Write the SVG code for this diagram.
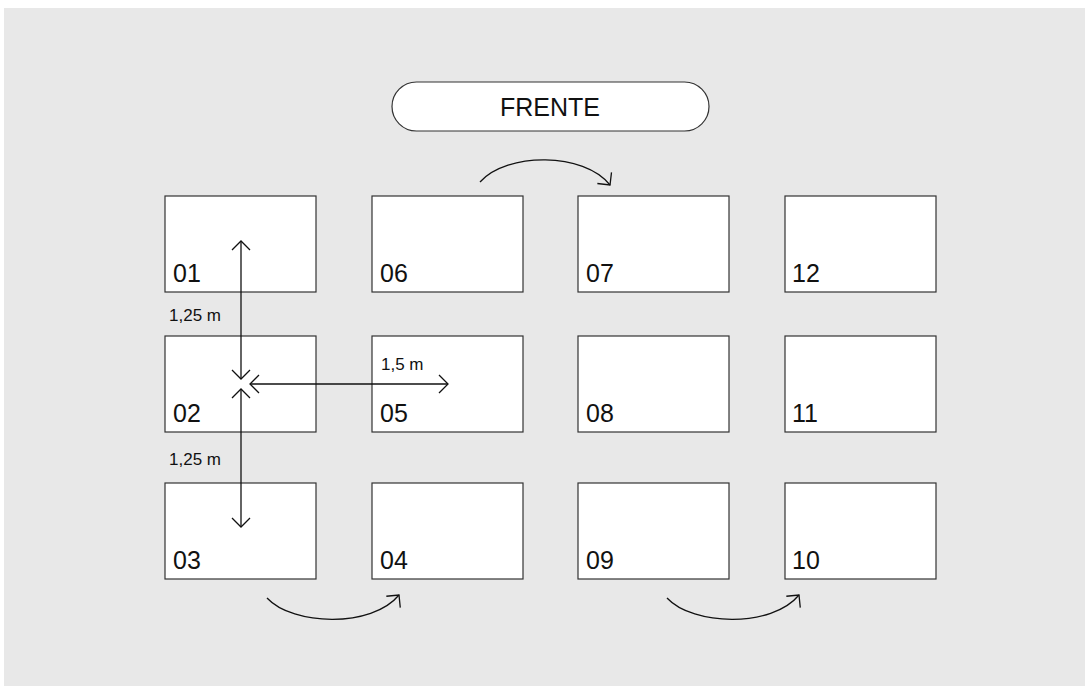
<svg xmlns="http://www.w3.org/2000/svg" width="1085" height="686" viewBox="0 0 1085 686">
<style>
.bg{fill:#e8e8e8}
.box{fill:#fff;stroke:#333;stroke-width:1.2}
.num{font-family:"Liberation Sans",Arial,sans-serif;font-size:25px;fill:#111}
.dim{font-family:"Liberation Sans",Arial,sans-serif;font-size:17px;fill:#111}
.title{font-family:"Liberation Sans",Arial,sans-serif;font-size:25px;fill:#111;text-anchor:middle}
.ln{fill:none;stroke:#111;stroke-width:1.3}
</style>
<defs>
<marker id="chev" markerUnits="userSpaceOnUse" markerWidth="24" markerHeight="24" refX="0" refY="0" orient="auto-start-reverse" overflow="visible">
<path d="M -9 -9 L 0 0 L -9 9" fill="none" stroke="#111" stroke-width="1.3"/>
</marker>
</defs>
<rect class="bg" x="4" y="8" width="1081" height="678"/>
<g id="frente">
<rect class="box" x="392" y="82" width="317" height="49" rx="24.5"/>
<text class="title" x="550" y="116">FRENTE</text>
</g>
<g id="n01"><rect class="box" x="165" y="196" width="151" height="96"/><text class="num" x="173" y="282">01</text></g>
<g id="n06"><rect class="box" x="372" y="196" width="151" height="96"/><text class="num" x="380" y="282">06</text></g>
<g id="n07"><rect class="box" x="578" y="196" width="151" height="96"/><text class="num" x="586" y="282">07</text></g>
<g id="n12"><rect class="box" x="785" y="196" width="151" height="96"/><text class="num" x="792" y="282">12</text></g>
<g id="n02"><rect class="box" x="165" y="336" width="151" height="96"/><text class="num" x="173" y="422">02</text></g>
<g id="n05"><rect class="box" x="372" y="336" width="151" height="96"/><text class="num" x="380" y="422">05</text></g>
<g id="n08"><rect class="box" x="578" y="336" width="151" height="96"/><text class="num" x="586" y="422">08</text></g>
<g id="n11"><rect class="box" x="785" y="336" width="151" height="96"/><text class="num" x="792" y="422">11</text></g>
<g id="n03"><rect class="box" x="165" y="483" width="151" height="96"/><text class="num" x="173" y="569">03</text></g>
<g id="n04"><rect class="box" x="372" y="483" width="151" height="96"/><text class="num" x="380" y="569">04</text></g>
<g id="n09"><rect class="box" x="578" y="483" width="151" height="96"/><text class="num" x="586" y="569">09</text></g>
<g id="n10"><rect class="box" x="785" y="483" width="151" height="96"/><text class="num" x="792" y="569">10</text></g>
<g id="connectors">
<path class="ln" d="M 480 182 C 507 152 584 152 610 185" marker-end="url(#chev)"/>
<path class="ln" d="M 267 598 C 293 626 372 628 399 595" marker-end="url(#chev)"/>
<path class="ln" d="M 667 598 C 693 626 772 628 799 595" marker-end="url(#chev)"/>
<path class="ln" d="M 241 241 L 241 379" marker-start="url(#chev)" marker-end="url(#chev)"/>
<path class="ln" d="M 241 389 L 241 527" marker-start="url(#chev)" marker-end="url(#chev)"/>
<path class="ln" d="M 250 384 L 448 384" marker-start="url(#chev)" marker-end="url(#chev)"/>
</g>
<g id="labels">
<text class="dim" x="169" y="321">1,25 m</text>
<text class="dim" x="169" y="465">1,25 m</text>
<text class="dim" x="381" y="370">1,5 m</text>
</g>
</svg>
